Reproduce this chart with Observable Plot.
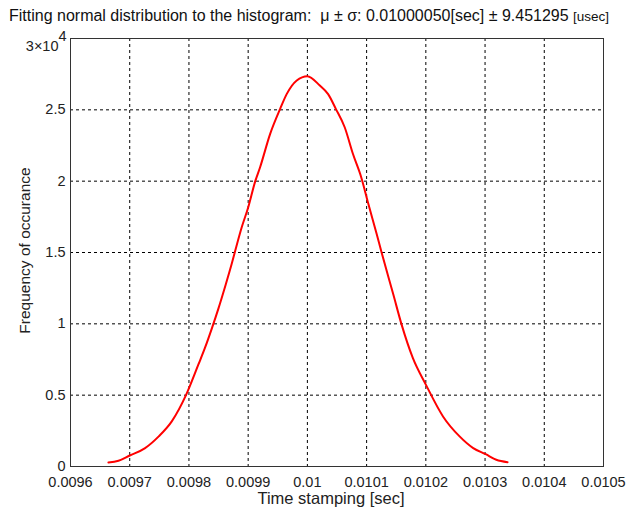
<!DOCTYPE html>
<html>
<head>
<meta charset="utf-8">
<script src="https://cdn.jsdelivr.net/npm/d3@7"></script>
<script src="https://cdn.jsdelivr.net/npm/@observablehq/plot@0.6"></script>
<style>
  body { margin: 0; background: #fff; }
  #wrap { position: relative; width: 631px; height: 510px; background: #fff; overflow: hidden; }
  #title { position: absolute; left: 9px; top: 7px; white-space: nowrap;
           font-family: "Liberation Sans", Arial, sans-serif; font-size: 16px; color: #111; }
  #title .small { font-size: 13.5px; }
  #chart { position: absolute; left: 0; top: 28px; }
</style>
</head>
<body>
<div id="wrap">
  <div id="title">Fitting normal distribution to the histogram:&nbsp; μ ± σ: 0.01000050[sec] ± 9.451295 <span class="small">[usec]</span></div>
  <div id="chart"></div>
</div>
<script>
// Time stamping [sec]
const timeValues = [
  0.009664, 0.009681, 0.009700, 0.009726, 0.009749, 0.009771, 0.009795, 0.009816,
  0.009827, 0.009839, 0.009850, 0.009861, 0.009872, 0.009878, 0.009889, 0.009900,
  0.009912, 0.009920, 0.009937, 0.009954, 0.009965, 0.009982, 0.010000, 0.010021,
  0.010035, 0.010048, 0.010063, 0.010077, 0.010091, 0.010103, 0.010117, 0.010126,
  0.010145, 0.010159, 0.010178, 0.010200, 0.010229, 0.010257, 0.010280, 0.010301,
  0.010319, 0.010338
];
// Frequency of occurance (counts)
const frequencyValues = [
  280, 400, 770, 1290, 2110, 3160, 5000, 7150,
  8310, 9720, 11100, 12600, 14170, 15100, 16750, 18150,
  20000, 20960, 23300, 25070, 26100, 27060, 27360, 26700,
  26100, 25070, 23780, 21900, 20260, 18400, 16300, 14900,
  12070, 9960, 7610, 5740, 3510, 2110, 1290, 860,
  470, 300
];
const xTicks = [0.0096, 0.0097, 0.0098, 0.0099, 0.0100, 0.0101, 0.0102, 0.0103, 0.0104, 0.0105];
const xTickLabels = ["0.0096", "0.0097", "0.0098", "0.0099", "0.01", "0.0101", "0.0102", "0.0103", "0.0104", "0.0105"];
const yTicks = [0, 5000, 10000, 15000, 20000, 25000];
const yTickLabels = ["0", "0.5", "1", "1.5", "2", "2.5"];
const yTop = 30000;

const data = timeValues.map((t, i) => ({t, f: frequencyValues[i]}));
const font = "'Liberation Sans', Arial, sans-serif";

const chart = Plot.plot({
  width: 631,
  height: 482,
  marginTop: 10,
  marginLeft: 70,
  marginRight: 28,
  marginBottom: 44,
  x: {domain: [0.0096, 0.0105]},
  y: {domain: [0, yTop]},
  style: {fontFamily: font, fontSize: "14px", color: "#222", background: "#fff"},
  marks: [
    Plot.gridX(xTicks.slice(1, -1), {stroke: "#000", strokeOpacity: 1, strokeWidth: 1, strokeDasharray: "3,3"}),
    Plot.gridY(yTicks.slice(1), {stroke: "#000", strokeOpacity: 1, strokeWidth: 1, strokeDasharray: "3,3"}),
    Plot.frame({stroke: "#333", strokeWidth: 1}),
    Plot.line(data, {x: "t", y: "f", stroke: "#ff0000", strokeWidth: 2, curve: "monotone-x"}),
    Plot.axisX(xTicks, {tickSize: 0, tickPadding: 10, tickFormat: (d, i) => xTickLabels[i], label: null, fontSize: 14.5, fill: "#222"}),
    Plot.axisY(yTicks, {tickSize: 0, tickPadding: 5, tickFormat: (d, i) => yTickLabels[i], label: null, fontSize: 14.5, fill: "#222"}),
    Plot.text([yTop], {x: 0.0096, y: d => d, text: () => "3×10", textAnchor: "end", dx: -12, dy: 8, fontSize: 14.5, fill: "#222"}),
    Plot.text([yTop], {x: 0.0096, y: d => d, text: () => "4", textAnchor: "start", dx: -12, dy: -2, fontSize: 14.5, fill: "#222"}),
    Plot.text(["Time stamping [sec]"], {frameAnchor: "bottom", textAnchor: "middle", dx: -6, dy: 37, fontSize: 16.5, fill: "#222"}),
    Plot.text(["Frequency of occurance"], {frameAnchor: "left", textAnchor: "middle", dx: -45, dy: -2, rotate: -90, fontSize: 15.5, fill: "#222"})
  ]
});
document.getElementById("chart").appendChild(chart);
</script>
</body>
</html>
